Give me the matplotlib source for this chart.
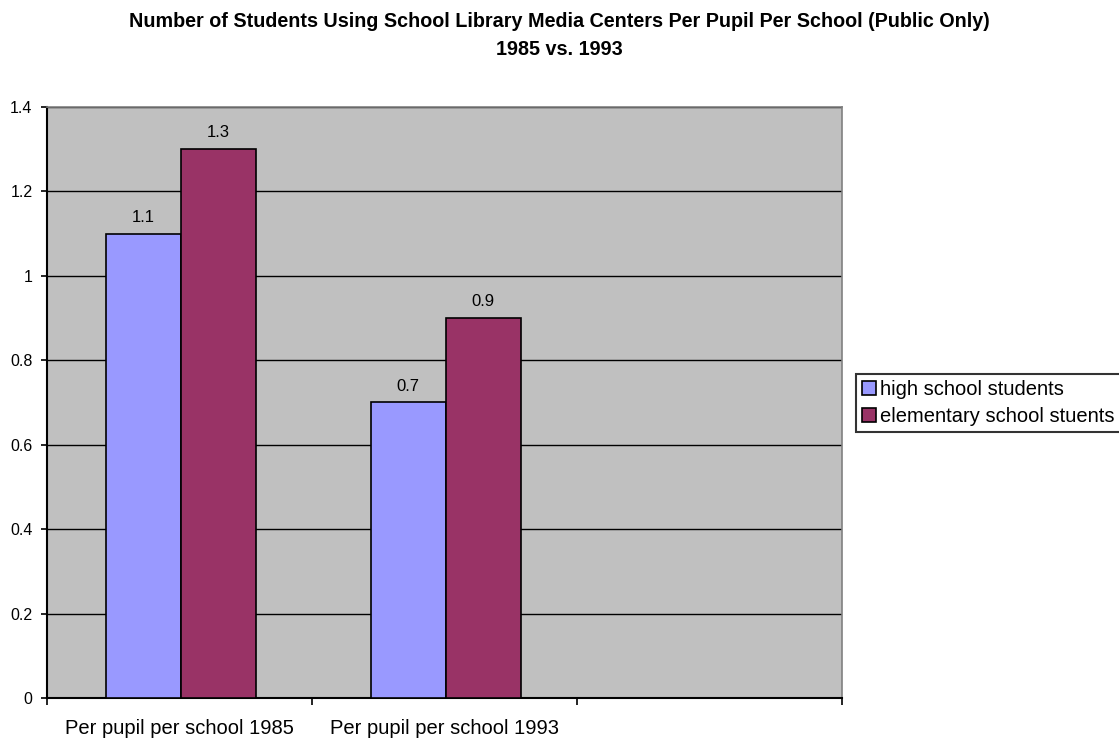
import matplotlib.pyplot as plt
import numpy as np

plt.rcParams['font.family'] = ['Liberation Sans', 'DejaVu Sans']

# datos
categorias = ['Per pupil per school 1985', 'Per pupil per school 1993', '']
high_school = [1.1, 0.7, None]
elementary = [1.3, 0.9, None]
series = ['high school students', 'elementary school stuents']
colores = ['#9999FF', '#993366']

fig = plt.figure(figsize=(11.19, 7.40), dpi=100)
ax = fig.add_axes([0.042, 0.0568, 0.7105, 0.7986])
ax.set_facecolor('#C0C0C0')

x = np.arange(len(categorias))
ancho = 0.283

for vals, nombre, color, off in zip([high_school, elementary], series, colores, [-ancho/2, ancho/2]):
    xs = [xi + off + 0.004 for xi, v in zip(x, vals) if v is not None]
    ys = [v for v in vals if v is not None]
    ax.bar(xs, ys, width=ancho, color=color, edgecolor='black', linewidth=1.2, label=nombre, zorder=3)
    for xb, yb in zip(xs, ys):
        ax.annotate(f'{yb:g}', (xb, yb), xytext=(0, 11.8), textcoords='offset points',
                    ha='center', va='center', fontsize=12)

ax.set_xlim(-0.5, len(categorias) - 0.5)
ax.set_ylim(0, 1.4)
ax.set_yticks(np.arange(0, 1.41, 0.2))
ax.set_yticklabels(['0', '0.2', '0.4', '0.6', '0.8', '1', '1.2', '1.4'], fontsize=11.5)
ax.yaxis.grid(True, color='black', linewidth=1, zorder=1)
ax.set_axisbelow(True)

# ticks de categoria en los bordes, etiquetas en el centro
ax.set_xticks(np.arange(-0.5, len(categorias), 1.0))
ax.set_xticklabels([])
ax.set_xticks(x, minor=True)
ax.set_xticklabels(categorias, minor=True, fontsize=14.5)
ax.tick_params(axis='x', which='minor', length=0, pad=15)
ax.tick_params(axis='x', which='major', length=5, width=1.2, direction='out')
ax.tick_params(axis='y', length=4, width=1.2, direction='out', pad=6.5)

for lado in ['top', 'right']:
    ax.spines[lado].set_color('#808080')
    ax.spines[lado].set_linewidth(1.2)
for lado in ['left', 'bottom']:
    ax.spines[lado].set_linewidth(1.5)

fig.text(0.5, 0.971, 'Number of Students Using School Library Media Centers Per Pupil Per School (Public Only)',
         ha='center', va='center', fontsize=14.2, fontweight='bold')
fig.text(0.5, 0.9335, '1985 vs. 1993', ha='center', va='center', fontsize=14.2, fontweight='bold')

leg = fig.legend(loc='center left', bbox_to_anchor=(0.765, 0.4554), fontsize=14.5, frameon=True,
                 fancybox=False, edgecolor='black', handlelength=0.7, handleheight=0.7,
                 handletextpad=0.2, borderpad=0.3, labelspacing=0.42, borderaxespad=0)
leg.get_frame().set_linewidth(1.5)

plt.savefig('out.png', dpi=100)
